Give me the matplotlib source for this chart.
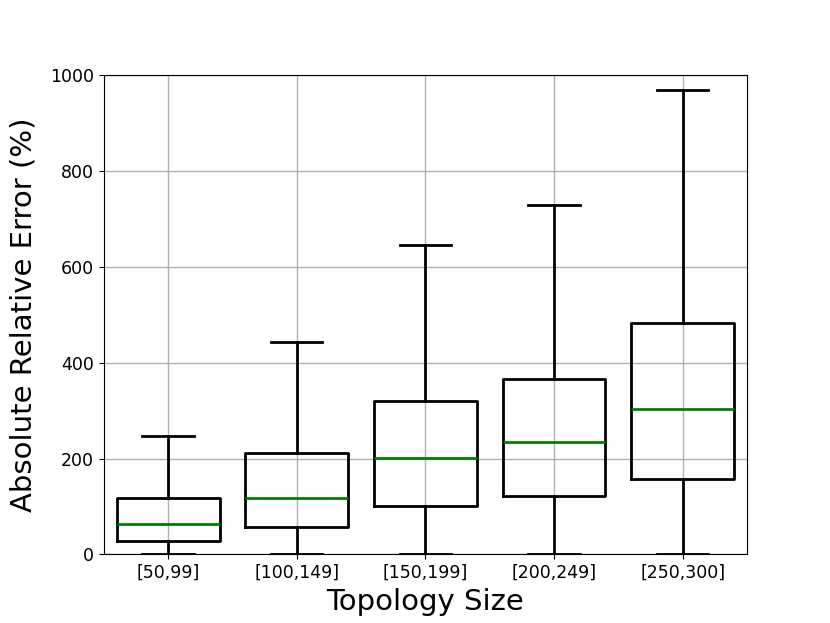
import matplotlib
matplotlib.use("Agg")
from matplotlib import pyplot as plt

labels = ["[50,99]", "[100,149]", "[150,199]", "[200,249]", "[250,300]"]
whislo = [0, 0, 0, 0, 0]
q1 = [29, 58, 102, 121, 158]
med = [63, 117, 202, 235, 304]
q3 = [117, 211, 320, 365, 483]
whishi = [246, 442, 646, 729, 969]

stats = []
for i in range(len(labels)):
    stats.append({"label": labels[i], "whislo": whislo[i], "q1": q1[i],
                  "med": med[i], "q3": q3[i], "whishi": whishi[i], "fliers": []})

fig = plt.figure(figsize=(8.3, 6.23), dpi=100)
ax = fig.add_subplot(111)
ax.bxp(stats, widths=0.8, showfliers=False,
       boxprops=dict(color='black', linewidth=2),
       whiskerprops=dict(color='black', linewidth=2),
       capprops=dict(color='black', linewidth=2),
       medianprops=dict(color='green', linewidth=2))
ax.set_ylim(0, 1000)
ax.grid(True, color='#b0b0b0', linewidth=1)
ax.set_axisbelow(True)
ax.tick_params(labelsize=12.5)
ax.set_ylabel("Absolute Relative Error (%)", fontsize=21, labelpad=9)
ax.set_xlabel("Topology Size", fontsize=21)
fig.subplots_adjust(left=0.125, right=0.9, top=0.88, bottom=0.11)
plt.savefig("out.png", dpi=100)
